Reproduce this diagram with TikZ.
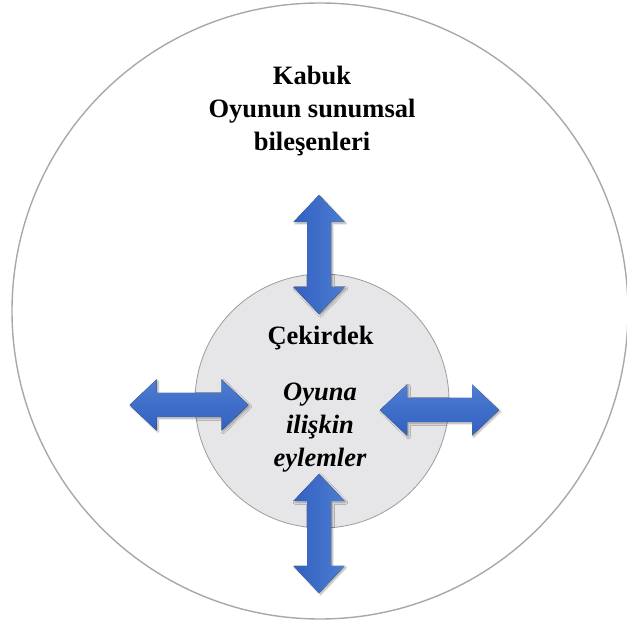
\documentclass[tikz,border=0pt]{standalone}
\usepackage{fontspec}
\setmainfont{Liberation Serif}
\usetikzlibrary{shadows, shadows.blur}
\definecolor{shellLine}{HTML}{A8A8A8}
\definecolor{coreFill}{HTML}{E6E5E7}
\definecolor{coreLine}{HTML}{9C9C9C}
\definecolor{arrowDark}{HTML}{3160C0}
\definecolor{arrowLight}{HTML}{4E7DD3}
\tikzstyle{shell}=[draw=shellLine, line width=1.4pt]
\tikzstyle{core}=[draw=coreLine, fill=coreFill, line width=0.8pt]
\tikzstyle{label}=[font=\fontsize{26.5}{33}\selectfont\bfseries, align=center, inner sep=0pt]
\tikzstyle{vArrow}=[left color=arrowDark, right color=arrowLight, draw=none,
  blur shadow={shadow xshift=1.5pt, shadow yshift=-1.5pt, shadow opacity=35, shadow blur steps=6}]
\tikzstyle{hArrow}=[top color=arrowLight, bottom color=arrowDark, draw=none,
  blur shadow={shadow xshift=1.5pt, shadow yshift=-1.5pt, shadow opacity=35, shadow blur steps=6}]

\begin{document}
\begin{tikzpicture}[x=1pt, y=1pt]
      \useasboundingbox (0,0) rectangle (627,623);

      \coordinate (shellC) at (320,312);
      \coordinate (coreC) at (322,222);
      \draw[shell] (shellC) circle (308);
      \draw[core] (coreC) circle (127);

      % vertical arrows
      \foreach \x/\y in {319/368.5, 319/89.5}{
        \fill[vArrow, shift={(\x,\y)}]
        (0,59.5) -- (25.5,32.5) -- (12,32.5) -- (12,-32.5) -- (25.5,-32.5) --
        (0,-59.5) -- (-25.5,-32.5) -- (-12,-32.5) -- (-12,32.5) -- (-25.5,32.5) -- cycle;
      }

      % horizontal arrows
      \foreach \x/\y in {189/218, 439.5/213}{
        \fill[hArrow, shift={(\x,\y)}]
        (59.5,0) -- (32.5,25.5) -- (32.5,12) -- (-32.5,12) -- (-32.5,25.5) --
        (-59.5,0) -- (-32.5,-25.5) -- (-32.5,-12) -- (32.5,-12) -- (32.5,-25.5) -- cycle;
      }

      \node[label] (shellText) at (312,512) {Kabuk\\Oyunun sunumsal\\bileşenleri};
      \node[label, anchor=base] (coreTitle) at (320.5,278) {Çekirdek};
      \node[label, font=\fontsize{26.5}{33}\selectfont\bfseries\itshape]
        (coreText) at (320,195) {Oyuna\\ilişkin\\eylemler};
\end{tikzpicture}
\end{document}
